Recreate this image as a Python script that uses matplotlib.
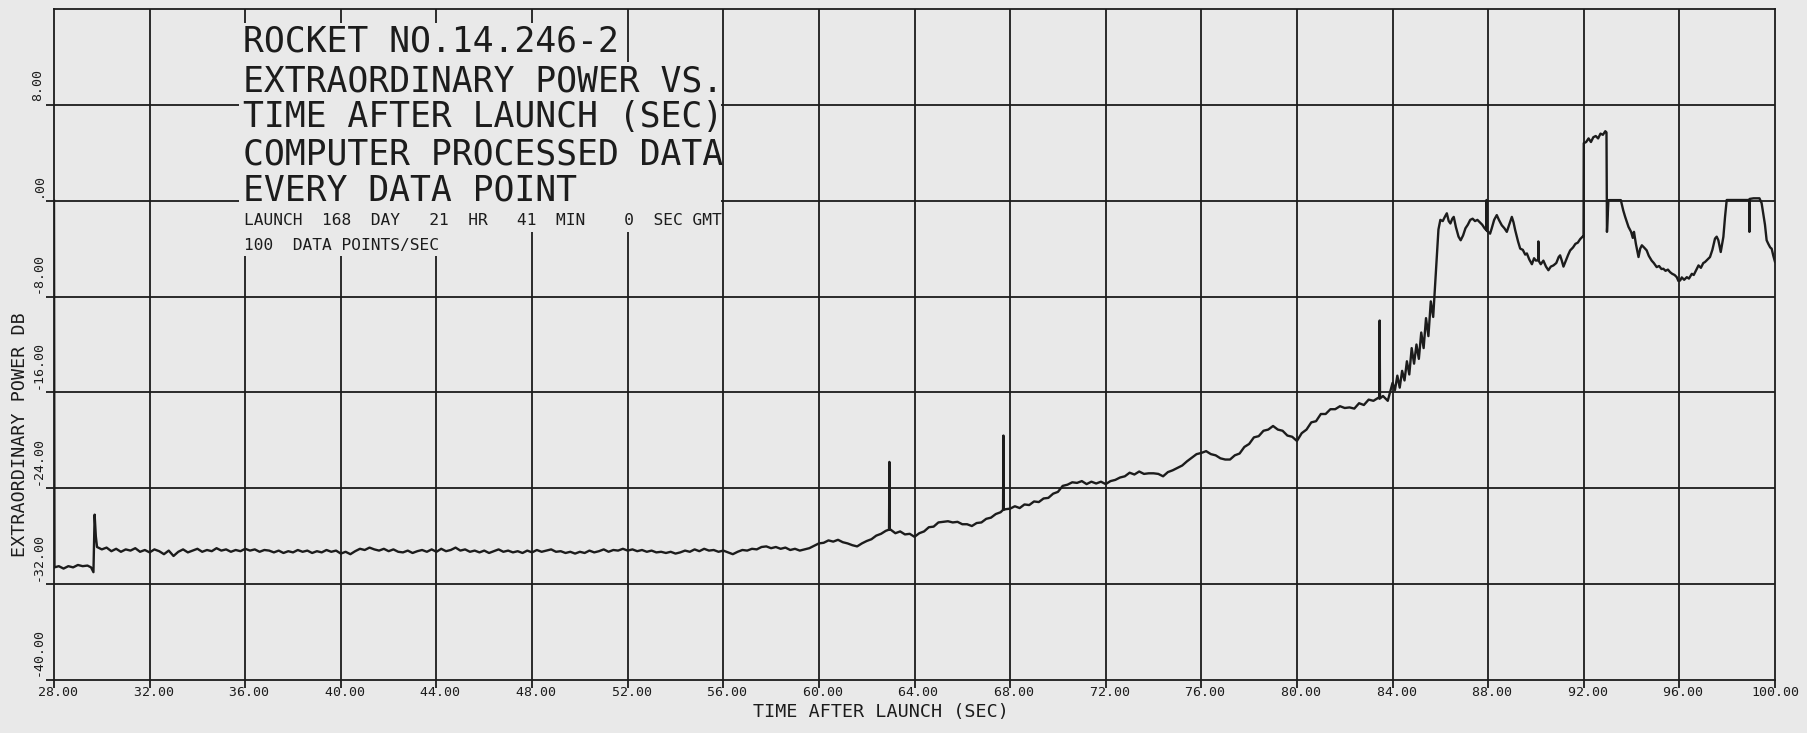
import numpy as np
import matplotlib
matplotlib.use("Agg")
import matplotlib.pyplot as plt
from matplotlib.patches import Rectangle

# ---------------- data ----------------
x_ticks = [28, 32, 36, 40, 44, 48, 52, 56, 60, 64, 68, 72, 76, 80, 84, 88, 92, 96, 100]
x_tick_labels = ["\u200728.00", "\u200732.00", "\u200736.00", "\u200740.00", "\u200744.00",
                 "\u200748.00", "\u200752.00", "\u200756.00", "\u200760.00", "\u200764.00",
                 "\u200768.00", "\u200772.00", "\u200776.00", "\u200780.00", "\u200784.00",
                 "\u200788.00", "\u200792.00", "\u200796.00", "100.00"]
y_ticks = [-40, -32, -24, -16, -8, 0, 8]
y_tick_labels = ["-40.00", "-32.00", "-24.00", "-16.00", "-8.00", ".00", "8.00"]

# start of record (pen down at x=28, low level, step with transient at ~29.7 s)
pre_t = [28.0, 28.02, 28.2, 28.4, 28.6, 28.8, 29.0, 29.2, 29.4, 29.55, 29.65, 29.7, 29.75]
pre_db = [0.0, -30.6, -30.5, -30.7, -30.5, -30.6, -30.4, -30.5, -30.45, -30.6, -31.0, -26.2, -28.0]

# main record sampled every 0.2 s from 29.8 s to 84.0 s
base_t0 = 29.8
base_dt = 0.2
base_db = [
    -28.9, -29.1, -28.95, -29.25, -29.05, -29.3, -29.1, -29.2, -29.0, -29.3,
    -29.15, -29.35, -29.1, -29.25, -29.5, -29.2, -29.65, -29.3, -29.1, -29.35,
    -29.2, -29.05, -29.3, -29.15, -29.25, -29.0, -29.2, -29.1, -29.3, -29.15,
    -29.25, -29.05, -29.2, -29.1, -29.3, -29.15, -29.2, -29.35, -29.2, -29.4,
    -29.25, -29.35, -29.15, -29.3, -29.2, -29.4, -29.25, -29.35, -29.15, -29.3,
    -29.2, -29.45, -29.3, -29.5, -29.25, -29.05, -29.15, -28.95, -29.1, -29.2,
    -29.05, -29.25, -29.1, -29.3, -29.35, -29.2, -29.4, -29.25, -29.15, -29.3,
    -29.1, -29.3, -29.05, -29.25, -29.15, -28.95, -29.2, -29.1, -29.3, -29.2,
    -29.35, -29.2, -29.4, -29.25, -29.1, -29.3, -29.2, -29.35, -29.25, -29.4,
    -29.2, -29.35, -29.15, -29.3, -29.2, -29.1, -29.3, -29.25, -29.4, -29.3,
    -29.45, -29.3, -29.4, -29.2, -29.35, -29.25, -29.1, -29.3, -29.15, -29.2,
    -29.05, -29.2, -29.1, -29.25, -29.15, -29.3, -29.2, -29.35, -29.3, -29.4,
    -29.3, -29.45, -29.35, -29.2, -29.3, -29.1, -29.25, -29.05, -29.2, -29.15,
    -29.3, -29.2, -29.35, -29.5, -29.3, -29.15, -29.2, -29.05, -29.1, -28.9,
    -28.85, -29.0, -28.9, -29.05, -28.95, -29.15, -29.05, -29.2, -29.1, -29.0,
    -28.8, -28.6, -28.55, -28.35, -28.45, -28.3, -28.5, -28.6, -28.75, -28.85,
    -28.6, -28.4, -28.25, -27.95, -27.8, -27.55, -27.45, -27.75, -27.6, -27.85,
    -27.8, -28.05, -27.75, -27.6, -27.25, -27.2, -26.85, -26.8, -26.75, -26.85,
    -26.8, -27.0, -27.0, -27.15, -26.9, -26.85, -26.55, -26.45, -26.15, -26.0,
    -25.75, -25.7, -25.5, -25.65, -25.35, -25.4, -25.1, -25.15, -24.85, -24.8,
    -24.45, -24.3, -23.8, -23.7, -23.5, -23.55, -23.4, -23.65, -23.45, -23.6,
    -23.45, -23.65, -23.4, -23.3, -23.1, -23.0, -22.7, -22.85, -22.6, -22.8,
    -22.75, -22.75, -22.8, -23.0, -22.65, -22.5, -22.3, -22.1, -21.75, -21.45,
    -21.15, -21.05, -20.9, -21.15, -21.25, -21.5, -21.6, -21.6, -21.25, -21.1,
    -20.55, -20.3, -19.75, -19.65, -19.2, -19.1, -18.8, -19.1, -19.2, -19.6,
    -19.7, -20.05, -19.4, -19.1, -18.5, -18.4, -17.8, -17.8, -17.4, -17.4,
    -17.15, -17.3, -17.25, -17.35, -16.9, -17.05, -16.6, -16.7, -16.45, -16.3,
    -16.7, -15.2,
]

# narrow spikes on the main record
spike_t = [62.95, 67.72, 83.46]
spike_peak = [-21.8, -19.6, -10.0]
spike_base = [-27.45, -25.8, -16.5]

# late part of the record (84-100 s)
late_t = [84.1, 84.2, 84.3, 84.4, 84.5, 84.6, 84.7, 84.8, 84.9, 85.0,
          85.1, 85.2, 85.3, 85.4, 85.5, 85.6, 85.7, 85.78, 85.85, 85.92,
          86.0, 86.1, 86.2, 86.27, 86.35, 86.42, 86.5, 86.56, 86.65, 86.76,
          86.85, 86.95, 87.05, 87.15, 87.25, 87.35, 87.45, 87.55, 87.65, 87.75,
          87.85, 87.92, 87.93, 87.94, 88.0, 88.08, 88.15, 88.25, 88.36, 88.45,
          88.57, 88.68, 88.78, 88.88, 88.99, 89.06, 89.13, 89.25, 89.34, 89.45,
          89.55, 89.62, 89.72, 89.83, 89.92, 90.0, 90.09, 90.1, 90.11, 90.2,
          90.31, 90.42, 90.52, 90.62, 90.73, 90.85, 90.95, 91.01, 91.08, 91.15,
          91.25, 91.35, 91.43, 91.55, 91.65, 91.75, 91.85, 91.95, 91.99, 92.0,
          92.1, 92.2, 92.3, 92.4, 92.5, 92.6, 92.7, 92.8, 92.9, 92.95,
          92.97, 93.03, 93.3, 93.55, 93.65, 93.73, 93.87, 93.98, 94.05, 94.1,
          94.18, 94.29, 94.36, 94.43, 94.52, 94.63, 94.72, 94.84, 94.93, 95.05,
          95.15, 95.25, 95.33, 95.42, 95.52, 95.61, 95.7, 95.8, 95.89, 95.96,
          96.03, 96.1, 96.2, 96.31, 96.4, 96.52, 96.6, 96.7, 96.8, 96.9,
          97.0, 97.07, 97.18, 97.28, 97.38, 97.49, 97.56, 97.63, 97.73, 97.84,
          97.91, 97.98, 98.5, 98.92, 98.93, 98.94, 99.1, 99.35, 99.44, 99.52,
          99.58, 99.65, 99.72, 99.8, 99.86, 99.93, 100.0]
late_db = [-15.8, -14.6, -15.6, -14.2, -15.0, -13.4, -14.5, -12.3, -13.6, -12.0,
           -13.2, -11.0, -12.3, -9.8, -11.3, -8.4, -9.7, -7.0, -4.5, -2.4,
           -1.6, -1.7, -1.3, -1.05, -1.7, -1.9, -1.5, -1.35, -2.2, -3.0,
           -3.3, -2.9, -2.3, -2.0, -1.6, -1.5, -1.7, -1.6, -1.8, -2.0,
           -2.3, -2.45, 0.06, -2.5, -2.6, -2.75, -2.3, -1.6, -1.2, -1.6,
           -2.05, -2.3, -2.6, -2.0, -1.35, -1.8, -2.45, -3.4, -4.0, -4.1,
           -4.5, -4.4, -4.9, -5.3, -4.8, -5.0, -4.95, -3.4, -5.0, -5.3,
           -5.0, -5.5, -5.8, -5.5, -5.4, -5.2, -4.7, -4.56, -5.0, -5.5,
           -5.0, -4.5, -4.15, -3.9, -3.6, -3.5, -3.2, -3.0, -3.0, 4.8,
           4.9, 5.2, 4.9, 5.3, 5.4, 5.2, 5.6, 5.5, 5.8, 5.7,
           -2.6, 0.05, 0.05, 0.05, -0.8, -1.34, -2.18, -2.6, -3.1, -2.6,
           -3.6, -4.7, -4.0, -3.72, -3.9, -4.14, -4.6, -5.0, -5.2, -5.54,
           -5.45, -5.7, -5.68, -5.85, -5.75, -5.96, -6.1, -6.2, -6.38, -6.7,
           -6.66, -6.4, -6.6, -6.38, -6.5, -6.1, -6.2, -5.8, -5.4, -5.6,
           -5.2, -5.12, -4.9, -4.7, -4.1, -3.16, -3.0, -3.3, -4.28, -3.02,
           -1.34, 0.06, 0.06, 0.06, -2.6, 0.15, 0.2, 0.2, -0.2, -1.2,
           -2.0, -3.3, -3.6, -3.9, -4.0, -4.6, -5.1]

title_lines = ["ROCKET NO.14.246-2", "EXTRAORDINARY POWER VS.", "TIME AFTER LAUNCH (SEC)",
               "COMPUTER PROCESSED DATA", "EVERY DATA POINT"]
title_baselines = [12.43, 9.14, 6.14, 3.0, 0.0]
info_lines = ["LAUNCH  168  DAY   21  HR   41  MIN    0  SEC GMT", "100  DATA POINTS/SEC"]
info_baselines = [-2.0, -4.14]

# ---------------- assemble trace ----------------
base_t = base_t0 + base_dt * np.arange(len(base_db))
sp_t, sp_v = [], []
for t, pk, b in zip(spike_t, spike_peak, spike_base):
    sp_t += [t - 0.015, t, t + 0.015]
    sp_v += [b, pk, b]
t_all = np.concatenate([pre_t, base_t, sp_t, late_t])
v_all = np.concatenate([pre_db, base_db, sp_v, late_db])
order = np.argsort(t_all, kind="stable")
t_all, v_all = t_all[order], v_all[order]

# ---------------- drawing ----------------
PAPER = "#e9e9e9"
INK = "#1c1c1c"
MONO = "DejaVu Sans Mono"
W, H = 1807, 733

fig = plt.figure(figsize=(W / 100, H / 100), dpi=100, facecolor=PAPER)
L, R, B, T = 54, 1775, 680, 9
ax = fig.add_axes([L / W, 1 - B / H, (R - L) / W, (B - T) / H])
ax.set_facecolor(PAPER)
ax.set_xlim(28, 100)
ax.set_ylim(-40, 16)

for s in ax.spines.values():
    s.set_color(INK)
    s.set_linewidth(1.3)

# grid
ax.vlines(x_ticks[1:-1], -40, 16, color=INK, lw=1.3, zorder=1)
ax.hlines(y_ticks[1:], 28, 100, color=INK, lw=1.3, zorder=1)

# blank area behind the title block
for (x0, y0, w, h) in [(35.75, 11.55, 51.8 - 35.75, 14.85 - 11.55),
                       (35.75, -2.6, 55.9 - 35.75, 11.55 + 2.6),
                       (35.75, -4.65, 44.3 - 35.75, 2.05)]:
    ax.add_patch(Rectangle((x0, y0), w, h, facecolor=PAPER, edgecolor="none", zorder=2))

for txt, yb in zip(title_lines, title_baselines):
    ax.text(35.9, yb, txt, family=MONO, fontsize=25.0, color=INK, ha="left",
            va="baseline", zorder=3)
for txt, yb in zip(info_lines, info_baselines):
    ax.text(35.95, yb, txt, family=MONO, fontsize=11.7, color=INK, ha="left",
            va="baseline", zorder=3)

# trace
ax.plot(t_all, v_all, color=INK, lw=1.7, zorder=4, solid_joinstyle="round")

# ticks
ax.set_xticks(x_ticks)
ax.set_xticklabels(x_tick_labels, family=MONO, fontsize=9.5, color=INK)
ax.set_yticks(y_ticks)
ax.set_yticklabels([])
ax.tick_params(axis="both", direction="out", length=5.5, width=1.3, color=INK)
ax.tick_params(axis="x", pad=-1)

ytr = ax.get_yaxis_transform()
for v, lab in zip(y_ticks, y_tick_labels):
    ax.text((38 - L) / (R - L), v + 0.3, lab, transform=ytr, rotation=90,
            rotation_mode="anchor", ha="left", va="center", family=MONO,
            fontsize=9.5, color=INK, clip_on=False)

ax.text((20 - L) / (R - L), -19.5, "EXTRAORDINARY POWER DB", transform=ytr,
        rotation=90, ha="center", va="center", family=MONO, fontsize=13.2,
        color=INK, clip_on=False)
ax.text(62.6, -(712 - B) / (B - T), "TIME AFTER LAUNCH (SEC)",
        transform=ax.get_xaxis_transform(), ha="center", va="center",
        family=MONO, fontsize=13.2, color=INK, clip_on=False)

fig.savefig("out.png", dpi=100, facecolor=PAPER)
